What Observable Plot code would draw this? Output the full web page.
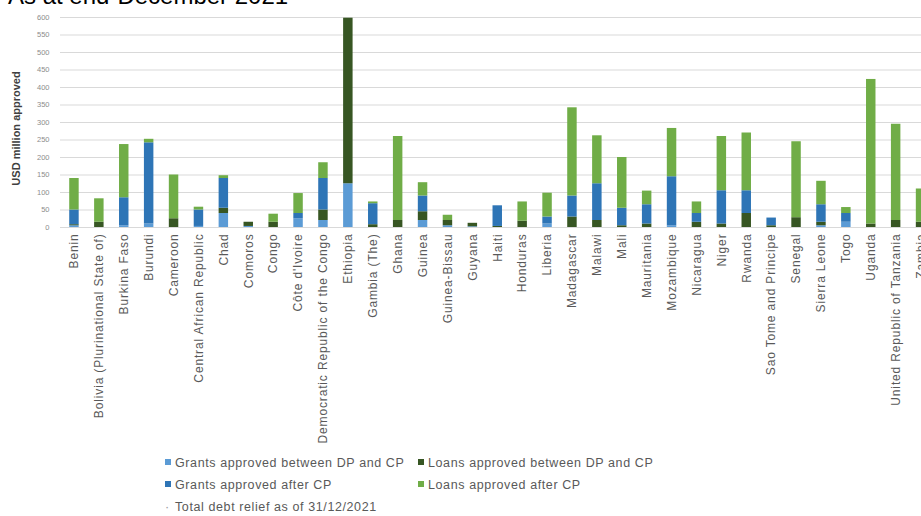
<!DOCTYPE html>
<html>
<head>
<meta charset="utf-8">
<script src="https://cdn.jsdelivr.net/npm/d3@7"></script>
<script src="https://cdn.jsdelivr.net/npm/@observablehq/plot@0.6"></script>
<style>
  html, body { margin: 0; padding: 0; background: #fff; overflow: hidden; }
  body { width: 921px; height: 516px; position: relative; font-family: "Liberation Sans", Arial, sans-serif; }
  #title { position: absolute; left: 8px; top: -18px; font-size: 24px; color: #000; white-space: nowrap; }
  #chart { position: absolute; left: 0; top: 0; }
  #chart g[aria-label="x-axis tick label"] text { letter-spacing: 0.85px; }
  #legend { position: absolute; left: 165px; top: 454px; font-size: 12.5px; color: #595959; letter-spacing: 0.6px; }
  .row { height: 22px; line-height: 18px; white-space: nowrap; }
  .item { display: inline-block; width: 253px; }
  .sw { display: inline-block; width: 6px; height: 6px; margin-right: 4px; vertical-align: 2px; }
</style>
</head>
<body>
<div id="title">As at end-December 2021</div>
<div id="chart"></div>
<div id="legend"></div>
<script>
const countries = ["Benin","Bolivia (Plurinational State of)","Burkina Faso","Burundi","Cameroon","Central African Republic","Chad","Comoros","Congo","Côte d'Ivoire","Democratic Republic of the Congo","Ethiopia","Gambia (The)","Ghana","Guinea","Guinea-Bissau","Guyana","Haiti","Honduras","Liberia","Madagascar","Malawi","Mali","Mauritania","Mozambique","Nicaragua","Niger","Rwanda","Sao Tome and Principe","Senegal","Sierra Leone","Togo","Uganda","United Republic of Tanzania","Zambia"];
const grantsDPCP    = [5, 0, 5, 10, 0, 3, 40, 3, 0, 25, 20, 125, 0, 0, 20, 5, 2, 0, 0, 10, 0, 0, 0, 0, 5, 0, 0, 0, 0, 0, 5, 15, 0, 0, 0];
const loansDPCP     = [3, 15, 0, 0, 25, 0, 15, 12, 15, 0, 30, 473, 8, 20, 25, 15, 10, 3, 18, 0, 30, 20, 5, 10, 0, 15, 10, 40, 5, 28, 10, 0, 10, 20, 15];
const grantsAfterCP = [42, 0, 80, 232, 0, 47, 85, 0, 0, 15, 90, 0, 60, 0, 45, 0, 0, 59, 0, 20, 60, 105, 50, 55, 140, 25, 95, 65, 22, 0, 50, 25, 0, 0, 0];
const loansAfterCP  = [90, 67, 152, 10, 125, 8, 8, 0, 23, 57, 45, 0, 5, 240, 38, 15, 0, 0, 55, 68, 252, 137, 145, 39, 138, 33, 155, 165, 0, 217, 67, 17, 413, 275, 95];
const seriesNames = ["Grants approved between DP and CP", "Loans approved between DP and CP", "Grants approved after CP", "Loans approved after CP"];
const seriesColors = ["#5b9bd5", "#375623", "#2e75b6", "#70ad47"];
const yTicks = [0, 50, 100, 150, 200, 250, 300, 350, 400, 450, 500, 550, 600];
const markerLabel = "Total debt relief as of 31/12/2021";

const seriesValues = [grantsDPCP, loansDPCP, grantsAfterCP, loansAfterCP];
const data = [];
countries.forEach((c, i) => {
  seriesNames.forEach((s, j) => data.push({country: c, series: s, value: seriesValues[j][i]}));
});

const chart = Plot.plot({
  width: 921,
  height: 452,
  marginTop: 17,
  marginBottom: 225,
  marginLeft: 60,
  marginRight: 0,
  style: {fontFamily: "'Liberation Sans', Arial, sans-serif", background: "transparent"},
  x: {domain: countries, range: [61.5, 933], paddingInner: 0.62, paddingOuter: 0.31, align: 0.5},
  y: {domain: [0, 600], ticks: yTicks},
  color: {domain: seriesNames, range: seriesColors},
  marks: [
    Plot.gridY(yTicks, {stroke: "#d9d9d9", strokeOpacity: 1, strokeWidth: 1}),
    Plot.barY(data, {x: "country", y: "value", fill: "series", order: seriesNames}),
    Plot.axisY(yTicks, {tickSize: 0, tickPadding: 11, fontSize: 7.5, color: "#8c8c8c", label: null}),
    Plot.axisX({tickSize: 0, tickPadding: 6, tickRotate: -90, fontSize: 12, color: "#595959", label: null}),
    Plot.text(["USD million approved"], {frameAnchor: "left", textAnchor: "middle", dx: -44, dy: 6, rotate: -90, fontSize: 11, fontWeight: "bold", fill: "#404040"})
  ]
});
document.getElementById("chart").appendChild(chart);

const legendItems = seriesNames.map((s, i) => ({label: s, color: seriesColors[i]}));
const legend = document.getElementById("legend");
const rows = [[legendItems[0], legendItems[1]], [legendItems[2], legendItems[3]]];
rows.forEach(r => {
  const row = document.createElement("div");
  row.className = "row";
  r.forEach(it => {
    const span = document.createElement("span");
    span.className = "item";
    span.innerHTML = `<span class="sw" style="background:${it.color}"></span>${it.label}`;
    row.appendChild(span);
  });
  legend.appendChild(row);
});
const mrow = document.createElement("div");
mrow.className = "row";
mrow.innerHTML = `<span style="display:inline-block;width:10px;color:#999">&middot;</span>${markerLabel}`;
legend.appendChild(mrow);
</script>
</body>
</html>
